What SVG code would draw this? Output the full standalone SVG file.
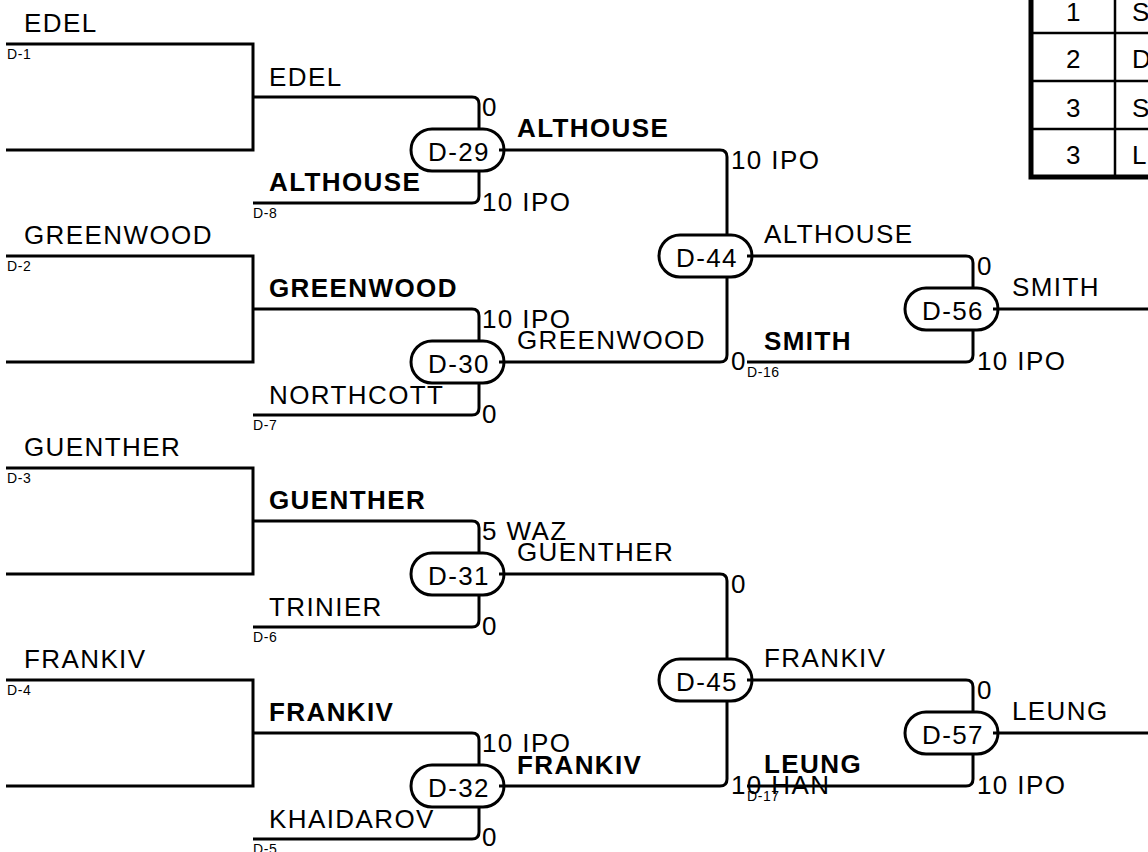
<svg xmlns="http://www.w3.org/2000/svg" width="1148" height="852" viewBox="0 0 1148 852">
<style>
.ln{fill:none;stroke:#000;stroke-width:3}
.t{font-family:"Liberation Sans",Arial,sans-serif;font-size:26px;letter-spacing:1.4px;fill:#000}
.b{font-weight:bold}
.s{font-size:14px;letter-spacing:0.6px}
.pill{fill:#fff;stroke:#000;stroke-width:3}
.m{text-anchor:middle}
.tb{fill:none;stroke:#000;stroke-width:5}
.tl{fill:none;stroke:#000;stroke-width:2.5}
</style>
<rect width="1148" height="852" fill="#fff"/>

<g id="table">
<rect class="tb" x="1031" y="-30" width="200" height="207"/>
<path class="tl" d="M1031,33 H1148 M1031,81 H1148 M1031,129 H1148 M1115,-30 V177"/>
<text class="t m" x="1074" y="21">1</text>
<text class="t m" x="1074" y="68">2</text>
<text class="t m" x="1074" y="117">3</text>
<text class="t m" x="1074" y="164">3</text>
<text class="t" x="1132" y="21">S</text>
<text class="t" x="1132" y="68">D</text>
<text class="t" x="1132" y="117">S</text>
<text class="t" x="1132" y="164">L</text>
</g>

<g id="entries">
<text class="t" x="24" y="32">EDEL</text><text class="t s" x="7" y="59">D-1</text>
<text class="t" x="24" y="244">GREENWOOD</text><text class="t s" x="7" y="271">D-2</text>
<text class="t" x="24" y="456">GUENTHER</text><text class="t s" x="7" y="483">D-3</text>
<text class="t" x="24" y="668">FRANKIV</text><text class="t s" x="7" y="695">D-4</text>

<text class="t" x="269" y="86">EDEL</text>
<text class="t b" x="269" y="191">ALTHOUSE</text><text class="t s" x="253" y="218">D-8</text>
<text class="t b" x="269" y="297">GREENWOOD</text>
<text class="t" x="269" y="404">NORTHCOTT</text><text class="t s" x="253" y="430">D-7</text>
<text class="t b" x="269" y="509">GUENTHER</text>
<text class="t" x="269" y="616">TRINIER</text><text class="t s" x="253" y="642">D-6</text>
<text class="t b" x="269" y="721">FRANKIV</text>
<text class="t" x="269" y="828">KHAIDAROV</text><text class="t s" x="253" y="854">D-5</text>

<text class="t" x="482" y="116">0</text>
<text class="t" x="482" y="211">10 IPO</text>
<text class="t" x="482" y="328">10 IPO</text>
<text class="t" x="482" y="423">0</text>
<text class="t" x="482" y="540">5 WAZ</text>
<text class="t" x="482" y="635">0</text>
<text class="t" x="482" y="752">10 IPO</text>
<text class="t" x="482" y="846">0</text>

<text class="t b" x="517" y="137">ALTHOUSE</text>
<text class="t" x="517" y="349">GREENWOOD</text>
<text class="t" x="517" y="561">GUENTHER</text>
<text class="t b" x="517" y="774">FRANKIV</text>

<text class="t" x="731" y="169">10 IPO</text>
<text class="t" x="731" y="370">0</text>
<text class="t" x="731" y="593">0</text>
<text class="t" x="731" y="794">10 HAN</text>

<text class="t" x="764" y="243">ALTHOUSE</text>
<text class="t b" x="764" y="350">SMITH</text><text class="t s" x="747" y="377">D-16</text>
<text class="t" x="764" y="667">FRANKIV</text>
<text class="t b" x="764" y="773">LEUNG</text><text class="t s" x="747" y="801">D-17</text>

<text class="t" x="977" y="275">0</text>
<text class="t" x="977" y="370">10 IPO</text>
<text class="t" x="977" y="699">0</text>
<text class="t" x="977" y="794">10 IPO</text>

<text class="t" x="1012" y="296">SMITH</text>
<text class="t" x="1012" y="720">LEUNG</text>
</g>

<g id="D-29"><rect class="pill" x="411" y="129" width="93" height="42" rx="21"/><text class="t m" x="459" y="161">D-29</text></g>
<g id="D-30"><rect class="pill" x="411" y="341" width="93" height="42" rx="21"/><text class="t m" x="459" y="373">D-30</text></g>
<g id="D-31"><rect class="pill" x="411" y="553" width="93" height="42" rx="21"/><text class="t m" x="459" y="585">D-31</text></g>
<g id="D-32"><rect class="pill" x="411" y="765" width="93" height="42" rx="21"/><text class="t m" x="459" y="797">D-32</text></g>
<g id="D-44"><rect class="pill" x="659" y="235" width="93" height="42" rx="21"/><text class="t m" x="707" y="267">D-44</text></g>
<g id="D-45"><rect class="pill" x="659" y="659" width="93" height="42" rx="21"/><text class="t m" x="707" y="691">D-45</text></g>
<g id="D-56"><rect class="pill" x="905" y="288" width="93" height="42" rx="21"/><text class="t m" x="953" y="320">D-56</text></g>
<g id="D-57"><rect class="pill" x="905" y="712" width="93" height="42" rx="21"/><text class="t m" x="953" y="744">D-57</text></g>

<g id="connectors">
<path class="ln" d="M6,44 H253 V150 H6"/>
<path class="ln" d="M6,256 H253 V362 H6"/>
<path class="ln" d="M6,468 H253 V574 H6"/>
<path class="ln" d="M6,680 H253 V786 H6"/>
<path class="ln" d="M253,97 H472 Q479,97 479,104 V129"/>
<path class="ln" d="M253,203 H472 Q479,203 479,196 V171"/>
<path class="ln" d="M253,309 H472 Q479,309 479,316 V341"/>
<path class="ln" d="M253,415 H472 Q479,415 479,408 V383"/>
<path class="ln" d="M253,521 H472 Q479,521 479,528 V553"/>
<path class="ln" d="M253,627 H472 Q479,627 479,620 V595"/>
<path class="ln" d="M253,733 H472 Q479,733 479,740 V765"/>
<path class="ln" d="M253,839 H472 Q479,839 479,832 V807"/>
<path class="ln" d="M499,150 H720 Q727,150 727,157 V235"/>
<path class="ln" d="M499,362 H720 Q727,362 727,355 V277"/>
<path class="ln" d="M499,574 H720 Q727,574 727,581 V659"/>
<path class="ln" d="M499,786 H720 Q727,786 727,779 V701"/>
<path class="ln" d="M747,256 H966 Q973,256 973,263 V288"/>
<path class="ln" d="M747,362 H966 Q973,362 973,355 V330"/>
<path class="ln" d="M747,680 H966 Q973,680 973,687 V712"/>
<path class="ln" d="M747,786 H966 Q973,786 973,779 V754"/>
<path class="ln" d="M993,309 H1148"/>
<path class="ln" d="M993,733 H1148"/>
</g>
</svg>
